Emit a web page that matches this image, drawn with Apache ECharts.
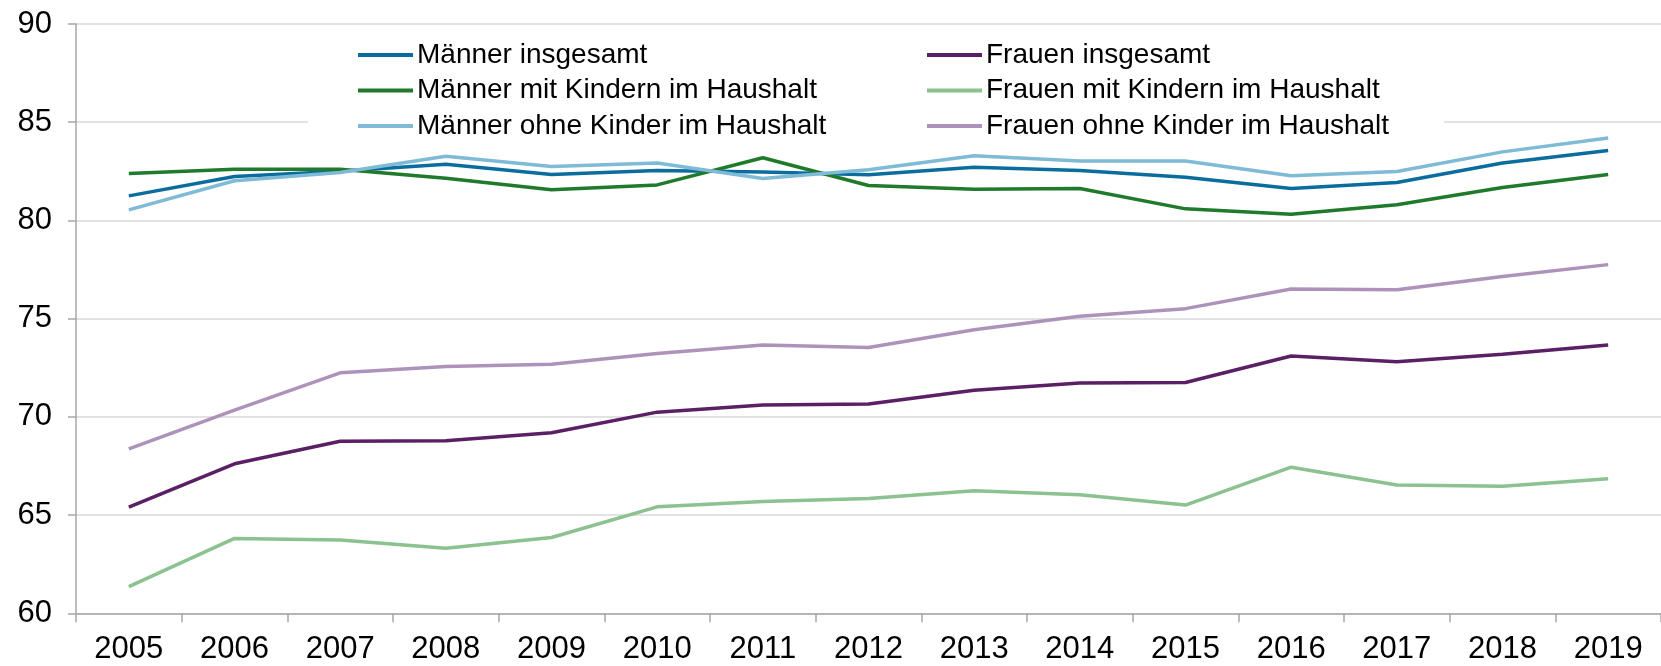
<!DOCTYPE html>
<html>
<head>
<meta charset="utf-8">
<script src="https://cdn.jsdelivr.net/npm/echarts@6/dist/echarts.min.js"></script>
<style>
  html, body { margin: 0; padding: 0; background: #fff; }
  #chart { width: 1661px; height: 666px; }
</style>
</head>
<body>
<div id="chart"></div>
<script>
var years = ['2005', '2006', '2007', '2008', '2009', '2010', '2011', '2012', '2013', '2014', '2015', '2016', '2017', '2018', '2019'];

var maennerInsgesamt = [81.25, 82.24, 82.5, 82.86, 82.34, 82.54, 82.47, 82.32, 82.71, 82.54, 82.2, 81.63, 81.93, 82.92, 83.56];
var maennerMitKindern = [82.39, 82.61, 82.61, 82.15, 81.56, 81.81, 83.19, 81.78, 81.59, 81.63, 80.59, 80.32, 80.8, 81.68, 82.34];
var maennerOhneKinder = [80.54, 82.02, 82.44, 83.27, 82.75, 82.92, 82.14, 82.58, 83.29, 83.02, 83.03, 82.27, 82.49, 83.49, 84.2];
var frauenInsgesamt = [65.41, 67.61, 68.76, 68.78, 69.19, 70.24, 70.61, 70.66, 71.36, 71.73, 71.75, 73.1, 72.8, 73.19, 73.66];
var frauenMitKindern = [61.36, 63.81, 63.73, 63.31, 63.86, 65.42, 65.69, 65.85, 66.24, 66.03, 65.51, 67.44, 66.53, 66.47, 66.85];
var frauenOhneKinder = [68.37, 70.34, 72.24, 72.56, 72.68, 73.22, 73.66, 73.53, 74.44, 75.12, 75.51, 76.51, 76.47, 77.15, 77.75];

var seriesDefs = [
  { name: 'Männer insgesamt', data: maennerInsgesamt, color: '#0a6d9e' },
  { name: 'Männer mit Kindern im Haushalt', data: maennerMitKindern, color: '#1f7a2c' },
  { name: 'Männer ohne Kinder im Haushalt', data: maennerOhneKinder, color: '#7fbad6' },
  { name: 'Frauen insgesamt', data: frauenInsgesamt, color: '#5b1f66' },
  { name: 'Frauen mit Kindern im Haushalt', data: frauenMitKindern, color: '#8cc190' },
  { name: 'Frauen ohne Kinder im Haushalt', data: frauenOhneKinder, color: '#ad93ba' }
];

var font = '"Liberation Sans", Arial, sans-serif';

function legendBlock(left, names) {
  return {
    orient: 'vertical',
    left: left,
    top: 41,
    padding: 0,
    itemWidth: 55,
    itemHeight: 14,
    itemGap: 7.5,
    icon: 'path://M0,5 L55,5 L55,9 L0,9 Z',
    textStyle: { fontFamily: font, fontSize: 28, color: '#000', lineHeight: 28, padding: [0, 0, 0, -1] },
    data: names,
    z: 5
  };
}

var chart = echarts.init(document.getElementById('chart'));
chart.setOption({
  backgroundColor: '#fff',
  animation: false,
  graphic: [{
    type: 'rect',
    z: 3,
    shape: { x: 308, y: 32, width: 1136, height: 110 },
    style: { fill: '#fff' }
  }],
  legend: [
    legendBlock(358, seriesDefs.slice(0, 3).map(function(s) { return s.name; })),
    legendBlock(927, seriesDefs.slice(3).map(function(s) { return s.name; }))
  ],
  grid: { left: 76, right: -11, top: 24, bottom: 52.7, containLabel: false },
  xAxis: {
    type: 'category',
    data: years,
    boundaryGap: true,
    axisLine: { show: true, lineStyle: { color: '#a6a6a6', width: 1.5 } },
    axisTick: { show: true, interval: 0, length: 9, lineStyle: { color: '#a6a6a6', width: 1.5 } },
    axisLabel: { interval: 0, margin: 21, fontFamily: font, fontSize: 31, color: '#000' },
    splitLine: { show: false }
  },
  yAxis: {
    type: 'value',
    min: 60,
    max: 90,
    interval: 5,
    axisLine: { show: true, lineStyle: { color: '#a6a6a6', width: 1.5 } },
    axisTick: { show: true, length: 8, lineStyle: { color: '#a6a6a6', width: 1.5 } },
    axisLabel: { margin: 24, fontFamily: font, fontSize: 31, color: '#000' },
    splitLine: { show: true, lineStyle: { color: '#d9d9d9', width: 1.5 } }
  },
  series: seriesDefs.map(function(s) {
    return {
      name: s.name,
      type: 'line',
      data: s.data,
      symbol: 'none',
      smooth: false,
      color: s.color,
      lineStyle: { color: s.color, width: 3.5 },
      itemStyle: { color: s.color }
    };
  })
});
</script>
</body>
</html>
